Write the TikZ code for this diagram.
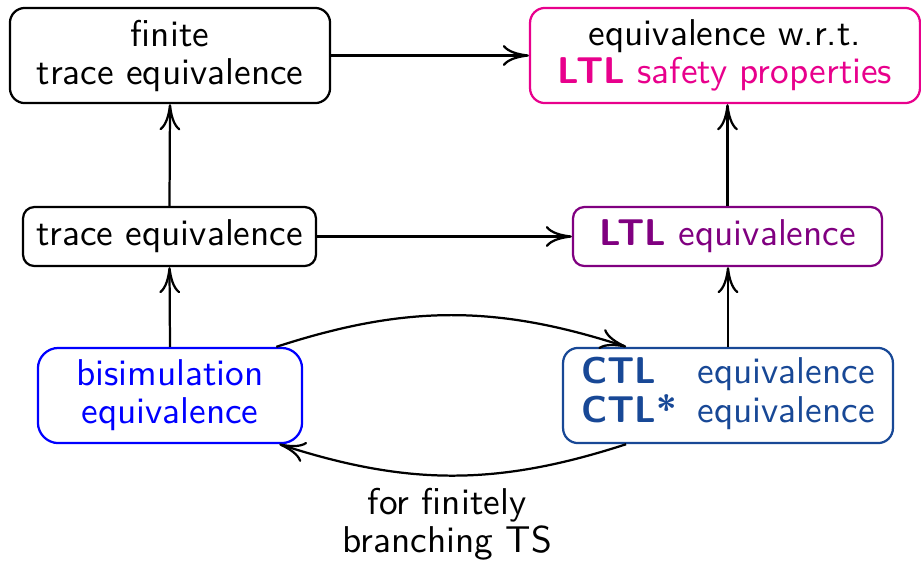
\documentclass[tikz,border=0pt]{standalone}
\usetikzlibrary{arrows.meta}
\definecolor{pinkc}{RGB}{232,0,140}
\definecolor{purpc}{RGB}{128,0,128}
\definecolor{ctlc}{RGB}{24,72,150}
\definecolor{bisc}{RGB}{0,0,255}
\begin{document}
\begin{tikzpicture}[x=0.268pt,y=-0.268pt,
  every node/.style={font=\fontsize{10}{10.2}\selectfont\sffamily},
  box/.style={draw, line width=0.6pt, rounded corners=4pt, align=center, inner sep=0pt},
  arr/.style={line width=0.6pt, -{To[length=7pt,width=5.6pt]}}]
\useasboundingbox (0,0) rectangle (921,562);
\node[box, minimum width=85.8pt, minimum height=25.5pt] (A) at (170,55.5) {finite\\trace equivalence};
\node[box, draw=pinkc, minimum width=104.5pt, minimum height=25.5pt] (B) at (725,55.5) {equivalence w.r.t.\\\textcolor{pinkc}{\textbf{LTL} safety properties}};
\node[box, rounded corners=3pt, minimum width=78.5pt, minimum height=15.8pt] (C) at (169.5,236.5) {trace equivalence};
\node[box, rounded corners=3pt, draw=purpc, text=purpc, minimum width=82.8pt, minimum height=15.8pt] (D) at (727.5,236.5) {\textbf{LTL} equivalence};
\node[box, rounded corners=5.5pt, draw=bisc, text=bisc, minimum width=70.8pt, minimum height=25.5pt] (E) at (170,395.5) {bisimulation\\equivalence};
\node[box, rounded corners=4pt, draw=ctlc, text=ctlc, minimum width=88.4pt, minimum height=25.5pt] (F) at (728,395.5) {\begin{tabular}{@{}l@{\hspace{0.55em}}l@{}}\textbf{CTL} & equivalence\\\textbf{CTL*} & equivalence\end{tabular}};
\node[align=center] (L) at (447,524) {for finitely\\branching TS};
\draw[arr] (C.north) -- (A.south);
\draw[arr] (A.east) -- (B.west);
\draw[arr] (C.east) -- (D.west);
\draw[arr] (E.north) -- (C.south);
\draw[arr] (D.north) -- (D.north |- B.south);
\draw[arr] (F.north) -- (F.north |- D.south);
\draw[arr] ([xshift=-7.2pt]E.north east) to[bend left=18] ([xshift=17.2pt]F.north west);
\draw[arr] ([xshift=17.2pt]F.south west) to[bend left=18] ([xshift=-6.4pt]E.south east);
\end{tikzpicture}
\end{document}
